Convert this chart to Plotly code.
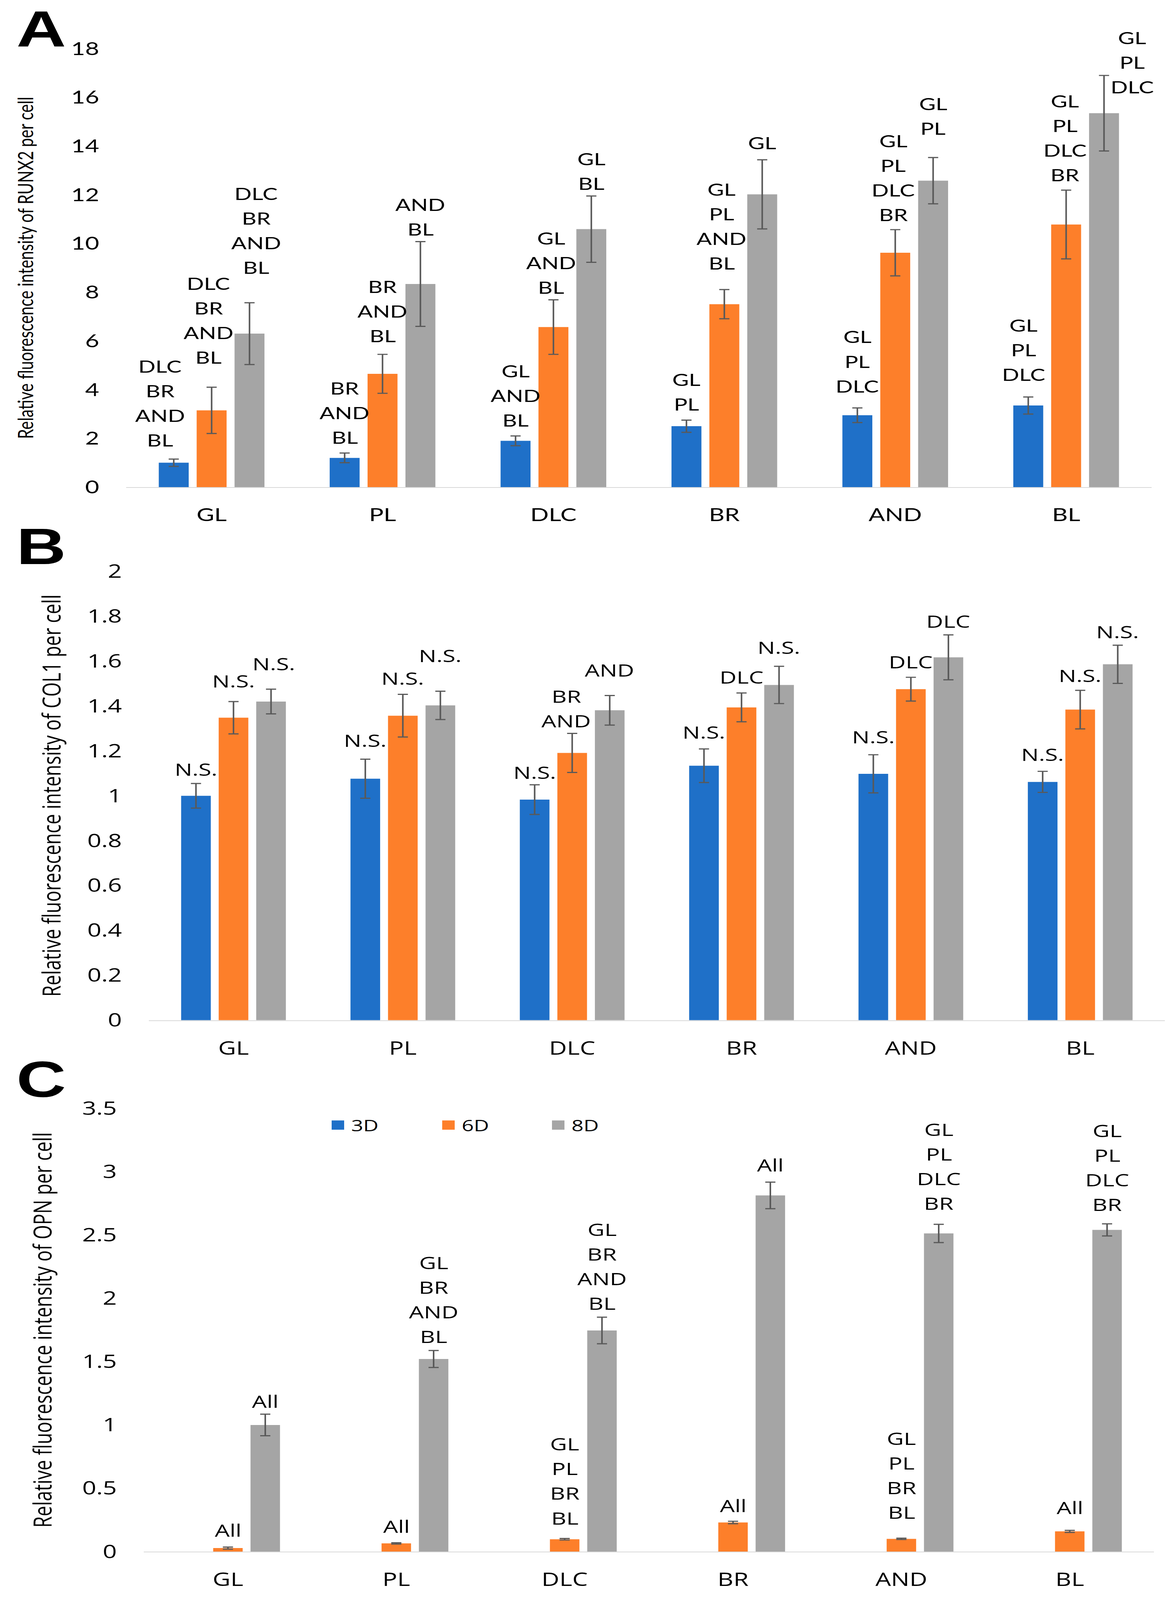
import plotly.graph_objects as go

# ---------------- data ----------------
categories = ["GL", "PL", "DLC", "BR", "AND", "BL"]
series_names = ["3D", "6D", "8D"]

# Panel A : RUNX2
runx2_3d = [1.00, 1.20, 1.90, 2.50, 2.95, 3.35]
runx2_3d_err = [0.15, 0.20, 0.20, 0.25, 0.30, 0.35]
runx2_6d = [3.15, 4.65, 6.57, 7.51, 9.62, 10.78]
runx2_6d_err = [0.95, 0.80, 1.12, 0.60, 0.95, 1.41]
runx2_8d = [6.30, 8.34, 10.59, 12.02, 12.58, 15.35]
runx2_8d_err = [1.27, 1.74, 1.36, 1.42, 0.95, 1.55]
runx2_3d_lbl = ["DLC\nBR\nAND\nBL", "BR\nAND\nBL", "GL\nAND\nBL", "GL\nPL", "GL\nPL\nDLC", "GL\nPL\nDLC"]
runx2_6d_lbl = ["DLC\nBR\nAND\nBL", "BR\nAND\nBL", "GL\nAND\nBL", "GL\nPL\nAND\nBL", "GL\nPL\nDLC\nBR", "GL\nPL\nDLC\nBR"]
runx2_8d_lbl = ["DLC\nBR\nAND\nBL", "AND\nBL", "GL\nBL", "GL", "GL\nPL", "GL\nPL\nDLC"]

# Panel B : COL1
col1_3d = [1.000, 1.076, 0.983, 1.134, 1.098, 1.062]
col1_3d_err = [0.055, 0.087, 0.066, 0.075, 0.085, 0.047]
col1_6d = [1.348, 1.357, 1.191, 1.394, 1.475, 1.384]
col1_6d_err = [0.072, 0.095, 0.087, 0.064, 0.053, 0.086]
col1_8d = [1.420, 1.403, 1.381, 1.494, 1.617, 1.586]
col1_8d_err = [0.055, 0.063, 0.066, 0.083, 0.100, 0.085]
col1_3d_lbl = ["N.S.", "N.S.", "N.S.", "N.S.", "N.S.", "N.S."]
col1_6d_lbl = ["N.S.", "N.S.", "BR\nAND", "DLC", "DLC", "N.S."]
col1_8d_lbl = ["N.S.", "N.S.", "AND", "N.S.", "DLC", "N.S."]

# Panel C : OPN
opn_3d = [0, 0, 0, 0, 0, 0]
opn_3d_err = [0, 0, 0, 0, 0, 0]
opn_6d = [0.028, 0.065, 0.098, 0.230, 0.101, 0.160]
opn_6d_err = [0.008, 0.005, 0.006, 0.010, 0.005, 0.008]
opn_8d = [1.000, 1.521, 1.746, 2.812, 2.512, 2.540]
opn_8d_err = [0.085, 0.067, 0.105, 0.105, 0.072, 0.048]
opn_3d_lbl = ["", "", "", "", "", ""]
opn_6d_lbl = ["All", "All", "GL\nPL\nBR\nBL", "All", "GL\nPL\nBR\nBL", "All"]
opn_8d_lbl = ["All", "GL\nBR\nAND\nBL", "GL\nBR\nAND\nBL", "All", "GL\nPL\nDLC\nBR", "GL\nPL\nDLC\nBR"]

y_titles = ["Relative fluorescence intensity of RUNX2 per cell",
            "Relative fluorescence intensity of COL1 per cell",
            "Relative fluorescence intensity of OPN per cell"]
panel_letters = ["A", "B", "C"]
y_ranges = [[0, 18], [0, 2], [0, 3.5]]
y_dticks = [2, 0.2, 0.5]

# ---------------- style ----------------
W, H = 2990, 5525
colors = ["#1F70C8", "#FD7F2A", "#A5A5A5"]
BARGAP = 0.335
GROUPGAP = 0.21
SLOT = (1 - BARGAP) / 3.0
FONT_A = "Lato"
FONT_BC = "Open Sans"
LINE_PX = 85  # spacing between stacked label lines

# panel geometry in pixels (plotting area) and text sizes
geo = [
    dict(l=323, r=2948, t=168, b=1682, font=FONT_A, fs=58, tfs=62, title_fs=55, title_x=64),
    dict(l=381, r=2982, t=1973, b=3523, font=FONT_BC, fs=60, tfs=63, title_fs=64, title_x=130),
    dict(l=368, r=2954, t=3827, b=5358, font=FONT_BC, fs=60, tfs=63, title_fs=64, title_x=108),
]
letter_top = [0, 1787, 3627]  # top of the panel-letter text boxes (px)

# label placement (px): lift of the lowest text line centre above the error-bar top,
# and horizontal nudge; rows = 3D, 6D, 8D
label_lift = [
    [[66, 55, 55, 55, 76, 78], [104, 65, 44, 91, 52, 53], [122, 44, 43, 59, 100, -39]],
    [[49, 66, 44, 58, 62, 60], [71, 57, 44, 56, 54, 52], [88, 124, 89, 66, 48, 47]],
    [[0, 0, 0, 0, 0, 0], [58, 57, 72, 54, 91, 80], [44, 48, 48, 60, 73, 67]],
]
label_dx = [
    [[-35, 0, 0, 0, 0, -12], [-8, 0, -6, -7, -5, -3], [17, 0, 0, 0, 0, 72]],
    [[0, 0, 0, 0, 0, 0], [0, 0, -15, 0, 0, 0], [7, 0, 0, 0, 0, 0]],
    [[0, 0, 0, 0, 0, 0], [0, 0, 0, 0, 0, 0], [0, 0, 0, 0, 0, 0]],
]

panels = [
    ([runx2_3d, runx2_6d, runx2_8d], [runx2_3d_err, runx2_6d_err, runx2_8d_err],
     [runx2_3d_lbl, runx2_6d_lbl, runx2_8d_lbl]),
    ([col1_3d, col1_6d, col1_8d], [col1_3d_err, col1_6d_err, col1_8d_err],
     [col1_3d_lbl, col1_6d_lbl, col1_8d_lbl]),
    ([opn_3d, opn_6d, opn_8d], [opn_3d_err, opn_6d_err, opn_8d_err],
     [opn_3d_lbl, opn_6d_lbl, opn_8d_lbl]),
]

fig = go.Figure()
annotations = []
shapes = []
xpos = list(range(len(categories)))

for p, (vals, errs, lbls) in enumerate(panels):
    g = geo[p]
    xa = "x" if p == 0 else f"x{p+1}"
    ya = "y" if p == 0 else f"y{p+1}"
    for k in range(3):
        has_err = any(e > 0 for e in errs[k])
        fig.add_trace(go.Bar(
            x=xpos, y=vals[k], name=series_names[k],
            marker=dict(color=colors[k], line=dict(width=0)),
            error_y=dict(type="data", array=errs[k], visible=has_err,
                         color="#595959", thickness=4, width=13),
            xaxis=xa, yaxis=ya, showlegend=False,
        ))
        for i in xpos:
            txt = lbls[k][i]
            if not txt:
                continue
            lines = txt.split("\n")
            for j, line in enumerate(reversed(lines)):
                annotations.append(dict(
                    x=i + (k - 1) * SLOT, y=vals[k][i] + errs[k][i],
                    xref=xa, yref=ya, text=line,
                    showarrow=False, xanchor="center", yanchor="middle",
                    xshift=label_dx[p][k][i],
                    yshift=label_lift[p][k][i] + j * LINE_PX,
                    font=dict(family=g["font"], size=g["fs"], color="#000000"),
                ))
    dom_x = [g["l"] / W, g["r"] / W]
    dom_y = [1 - g["b"] / H, 1 - g["t"] / H]
    xkey = "xaxis" if p == 0 else f"xaxis{p+1}"
    ykey = "yaxis" if p == 0 else f"yaxis{p+1}"
    fig.update_layout(**{
        xkey: dict(domain=dom_x, anchor=ya, range=[-0.5, len(categories) - 0.5],
                   tickmode="array", tickvals=xpos, ticktext=categories,
                   showline=True, linecolor="#D9D9D9", linewidth=3,
                   showgrid=False, zeroline=False, ticks="",
                   ticklabelstandoff=40, automargin=False, fixedrange=True,
                   tickfont=dict(family=g["font"], size=g["tfs"], color="#000000")),
        ykey: dict(domain=dom_y, anchor=xa, range=y_ranges[p], dtick=y_dticks[p],
                   tick0=0, showline=False, showgrid=False, zeroline=False,
                   ticks="", ticklabelstandoff=68, automargin=False, fixedrange=True,
                   tickfont=dict(family=g["font"], size=g["tfs"], color="#000000")),
    })
    annotations.append(dict(
        x=g["title_x"] / W, y=(dom_y[0] + dom_y[1]) / 2, xref="paper", yref="paper",
        text=y_titles[p], textangle=-90, showarrow=False,
        xanchor="center", yanchor="middle",
        font=dict(family=g["font"], size=g["title_fs"], color="#000000"),
    ))
    annotations.append(dict(
        x=40 / W, y=1 - letter_top[p] / H, xref="paper", yref="paper",
        text="<b>%s</b>" % panel_letters[p], showarrow=False,
        xanchor="left", yanchor="top",
        font=dict(family="Liberation Sans", size=176, color="#000000"),
    ))

# legend of panel C drawn with large square keys
leg_x = [849, 1132, 1413]
leg_y = 3885
for k in range(3):
    shapes.append(dict(type="rect", xref="paper", yref="paper",
                       x0=leg_x[k] / W, x1=(leg_x[k] + 32) / W,
                       y0=1 - (leg_y + 16) / H, y1=1 - (leg_y - 16) / H,
                       fillcolor=colors[k], line=dict(width=0)))
    annotations.append(dict(x=(leg_x[k] + 48) / W, y=1 - leg_y / H,
                            xref="paper", yref="paper", text=series_names[k],
                            showarrow=False, xanchor="left", yanchor="middle",
                            font=dict(family=FONT_BC, size=54, color="#000000")))

fig.update_layout(
    width=W, height=H, autosize=False,
    margin=dict(l=0, r=0, t=0, b=0, pad=0),
    paper_bgcolor="white", plot_bgcolor="white",
    barmode="group", bargap=BARGAP, bargroupgap=GROUPGAP,
    showlegend=False, annotations=annotations, shapes=shapes,
    template="none",
)

# if the browser viewport is smaller than the figure, scale the figure to fit it
post = ("var gd=document.getElementById('{plot_id}');"
        "document.documentElement.style.margin='0';document.body.style.margin='0';"
        "document.documentElement.style.overflow='hidden';document.body.style.overflow='hidden';"
        "var sx=Math.min(1,window.innerWidth/%d),sy=Math.min(1,window.innerHeight/%d);"
        "if(sx<1||sy<1){gd.style.transformOrigin='0 0';"
        "gd.style.transform='scale('+sx+','+sy+')';}" % (W, H))
fig.write_html("out.html", post_script=post, config={"displayModeBar": False})
